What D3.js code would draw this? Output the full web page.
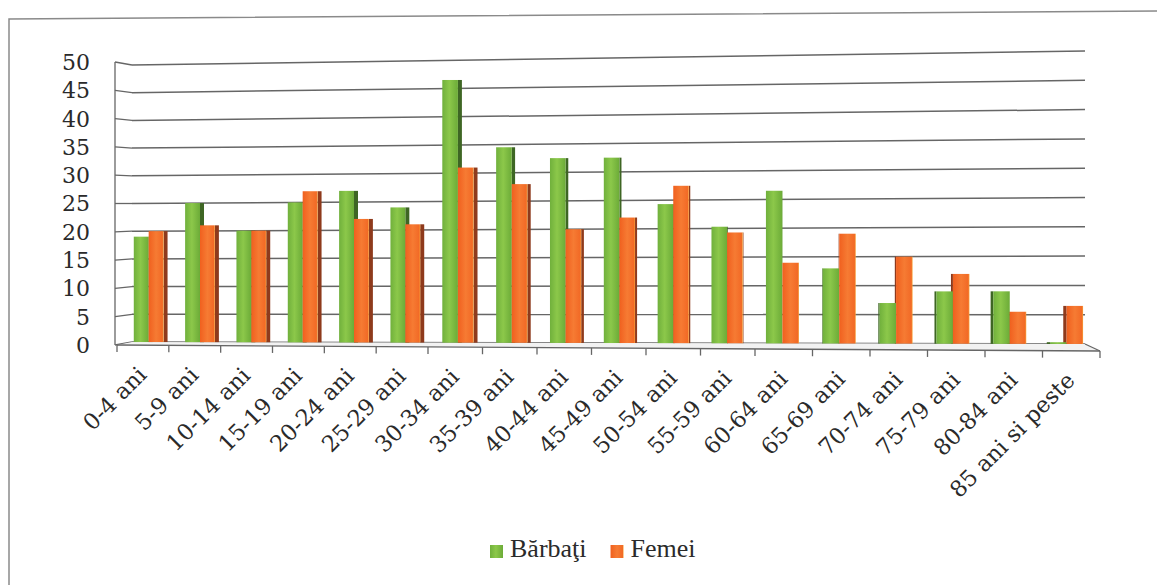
<!DOCTYPE html>
<html>
<head>
<meta charset="utf-8">
<script src="https://cdn.jsdelivr.net/npm/d3@7"></script>
<style>
body { margin: 0; background: #fff; }
</style>
</head>
<body>
<script>
var categories = ["0-4 ani", "5-9 ani", "10-14 ani", "15-19 ani", "20-24 ani", "25-29 ani",
    "30-34 ani", "35-39 ani", "40-44 ani", "45-49 ani", "50-54 ani", "55-59 ani",
    "60-64 ani", "65-69 ani", "70-74 ani", "75-79 ani", "80-84 ani", "85 ani si peste"];
var barbati = [19, 25, 20, 25, 27, 24, 46.5, 34.5, 32.5, 32.5, 24.3, 20.3, 26.5, 13, 7, 9, 9, 0.3];
var femei = [20, 21, 20, 27, 22, 21, 31, 28, 20, 22, 27.5, 19.3, 14, 19, 15, 12, 5.5, 6.5];
var seriesNames = ["Bărbaţi", "Femei"];
var yTicks = [0, 5, 10, 15, 20, 25, 30, 35, 40, 45, 50];

var W = 1157, H = 585;
var svg = d3.select("body").append("svg").attr("width", W).attr("height", H);

// gradients for the bar faces
var defs = svg.append("defs");
function grad(id, stops) {
    var g = defs.append("linearGradient").attr("id", id)
            .attr("x1", "0").attr("x2", "1").attr("y1", "0").attr("y2", "0");
    stops.forEach(function (s) {
        g.append("stop").attr("offset", s[0]).attr("stop-color", s[1]);
    });
}
grad("gGreen", [[0, "#70b03c"], [0.45, "#8cc84a"], [1, "#6cab38"]]);
grad("gOrange", [[0, "#f0601f"], [0.5, "#f67b33"], [0.92, "#f26a26"], [1, "#f7a23a"]]);

// scales (the scanned chart is a little in perspective, so the category
// scale is piecewise and the value scale grows slightly to the right)
var xFront = d3.scaleLinear().domain([0, 6, 12, 18]).range([117, 428, 755, 1100]);
var xBars = d3.scaleLinear().domain([0, 6, 12, 18]).range([123, 431, 754, 1095]);
var yFront = d3.scaleLinear().domain([0, 50]).range([345, 62]);
var wallTop = d3.scaleLinear().domain([132, 1085]).range([65, 51]);
var wallBase = d3.scaleLinear().domain([132, 1085]).range([342, 344]);
var floorFront = d3.scaleLinear().domain([117, 1100]).range([345, 351]);
function yAt(v, x) {
    return d3.scaleLinear().domain([0, 50]).range([wallBase(x), wallTop(x)])(v);
}

var lineCol = "#666";

// frame
svg.append("path")
        .attr("d", "M9," + H + "L9,19L" + W + ",11")
        .attr("fill", "none").attr("stroke", "#8a8a8a").attr("stroke-width", 1.5);

// gridlines: back wall + left wall
var grid = svg.append("g");
yTicks.forEach(function (v) {
    grid.append("line")
            .attr("x1", 132).attr("y1", yAt(v, 132))
            .attr("x2", 1085).attr("y2", yAt(v, 1085))
            .attr("stroke", lineCol).attr("stroke-width", 1.5);
    grid.append("line")
            .attr("x1", 115).attr("y1", yFront(v))
            .attr("x2", 132).attr("y2", yAt(v, 132))
            .attr("stroke", lineCol).attr("stroke-width", 1.3);
});
grid.append("line")
        .attr("x1", 115).attr("y1", yFront(50))
        .attr("x2", 115).attr("y2", floorFront(117))
        .attr("stroke", lineCol).attr("stroke-width", 1.3);

// floor
var floor = svg.append("g");
floor.append("path")
        .attr("d", "M132," + wallBase(132) + "L1085," + wallBase(1085) +
                "L1100," + floorFront(1100) + "L117," + floorFront(117) + "Z")
        .attr("fill", "#f2f2f2").attr("stroke", "none");
floor.append("line")
        .attr("x1", 117).attr("y1", floorFront(117))
        .attr("x2", 1100).attr("y2", floorFront(1100))
        .attr("stroke", lineCol).attr("stroke-width", 1.4);
floor.append("line")
        .attr("x1", 1085).attr("y1", wallBase(1085))
        .attr("x2", 1100).attr("y2", floorFront(1100))
        .attr("stroke", lineCol).attr("stroke-width", 1.3);
d3.range(categories.length + 1).forEach(function (i) {
    var x = xFront(i);
    floor.append("line")
            .attr("x1", x).attr("y1", floorFront(x))
            .attr("x2", x).attr("y2", floorFront(x) + 7)
            .attr("stroke", lineCol).attr("stroke-width", 1.3);
});

// bars
var vanishX = 790;
var sides = svg.append("g"), faces = svg.append("g");
categories.forEach(function (c, i) {
    var xc = xBars(i + 0.5);
    var bw = (xBars(i + 1) - xBars(i)) * 0.29;
    var s = Math.min(4, Math.abs(vanishX - xc) * 0.012);
    var rightSide = xc < vanishX;
    var vals = [barbati[i], femei[i]];
    var xs = [xc - bw, xc];
    var base = yAt(0, xc);
    vals.forEach(function (v, k) {
        var top = yAt(v, xc);
        var sx = rightSide ? xs[k] + bw : xs[k] - s;
        sides.append("rect")
                .attr("x", sx).attr("y", top)
                .attr("width", s).attr("height", base - top)
                .attr("fill", k === 0 ? "#3e6624" : "#8e3a1c");
        faces.append("rect")
                .attr("x", xs[k]).attr("y", top)
                .attr("width", bw).attr("height", base - top)
                .attr("fill", k === 0 ? "url(#gGreen)" : "url(#gOrange)");
    });
});

// y tick labels
svg.append("g").selectAll("text").data(yTicks).enter().append("text")
        .attr("x", 90).attr("y", function (d) { return yFront(d); })
        .attr("dy", "0.36em")
        .attr("text-anchor", "end")
        .attr("font-family", "DejaVu Serif")
        .attr("font-size", 22)
        .attr("fill", "#2a2a2a")
        .text(function (d) { return d; });

// x tick labels
svg.append("g").selectAll("text").data(categories).enter().append("text")
        .attr("transform", function (d, i) {
            var x = xFront(i + 0.5) + 5;
            return "translate(" + x + "," + (floorFront(x) + 31) + ") rotate(-45)";
        })
        .attr("text-anchor", "end")
        .attr("font-family", "DejaVu Serif")
        .attr("font-size", 22.5)
        .attr("fill", "#2a2a2a")
        .text(function (d) { return d; });

// legend
var legend = svg.append("g");
var lx = 490;
seriesNames.forEach(function (name, k) {
    legend.append("rect")
            .attr("x", lx).attr("y", 545).attr("width", 13).attr("height", 13)
            .attr("fill", k === 0 ? "url(#gGreen)" : "url(#gOrange)");
    var t = legend.append("text")
            .attr("x", lx + 20).attr("y", 557)
            .attr("font-family", "Liberation Serif")
            .attr("font-size", 26)
            .attr("fill", "#2a2a2a")
            .text(name);
    lx += 20 + t.node().getComputedTextLength() + 24;
});
</script>
</body>
</html>
